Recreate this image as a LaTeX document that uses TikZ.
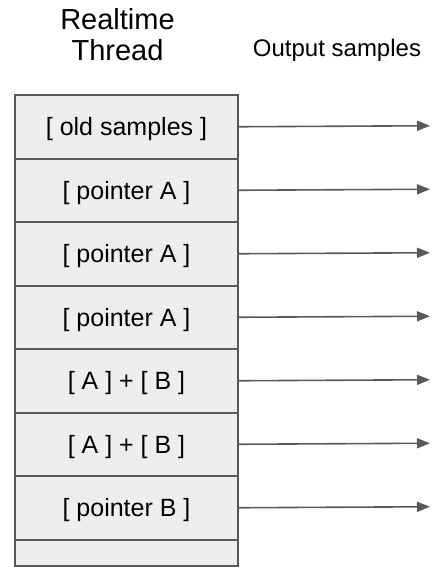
\documentclass[tikz,border=0pt]{standalone}
\usepackage{fontspec}
\setmainfont{Liberation Sans}
\usetikzlibrary{arrows.meta}

\definecolor{linegray}{HTML}{595959}
\definecolor{cellgray}{HTML}{EEEEEE}

\tikzset{
  cell/.style={draw=linegray, fill=cellgray, line width=2pt, anchor=north west,
    minimum width=223pt, minimum height=63.5pt, inner sep=0pt, text depth=0pt,
    font=\fontsize{25}{30}\selectfont},
  sample/.style={draw=linegray, line width=1.6pt, -{Triangle[length=13pt,width=10pt]}}
}

\begin{document}
\begin{tikzpicture}[x=1pt,y=-1pt]
  \useasboundingbox (0,0) rectangle (434,567);

  \node[align=center, inner sep=0pt, font=\fontsize{29}{31}\selectfont] (title) at (117.5,34.2) {Realtime\\Thread};
  \node[inner sep=0pt, font=\fontsize{24}{28}\selectfont] (outlabel) at (337,50.7) {Output samples};

  % buffer cells, each one sends its block out to the right
  \foreach \i/\txt in {1/{[ old samples ]},2/{[ pointer A ]},3/{[ pointer A ]},4/{[ pointer A ]},
                       5/{[ A ] + [ B ]},6/{[ A ] + [ B ]},7/{[ pointer B ]}}{
    \node[cell] (row\i) at (14,{94+(\i-1)*63.5}) {\txt};
    \coordinate (out\i) at (430,{94+(\i-0.5)*63.5});
    \draw[sample] (row\i.east) -- (out\i);
  }
  % empty slot at the bottom
  \node[cell, minimum height=26pt] (row8) at (14,538.5) {};
\end{tikzpicture}
\end{document}
